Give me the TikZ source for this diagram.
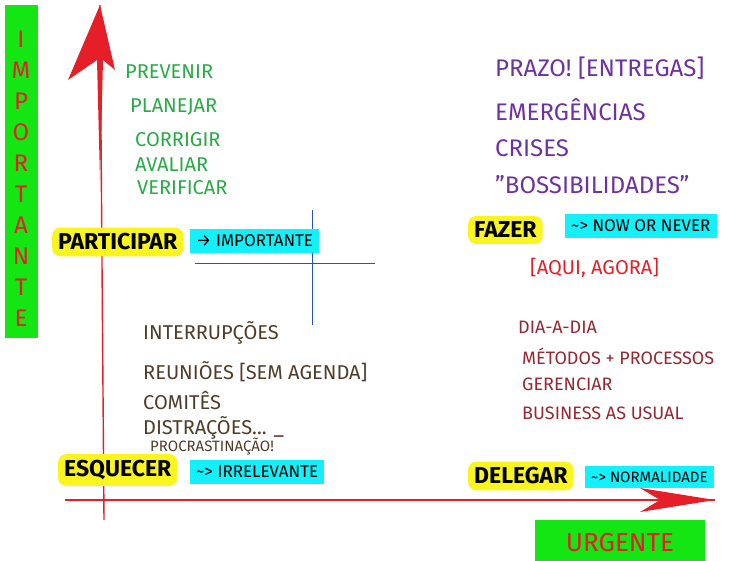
\documentclass[tikz,border=0pt]{standalone}
\usepackage{fontspec}
\setmainfont{Fira Sans}
\definecolor{hgreen}{RGB}{20,230,20}
\definecolor{hred}{RGB}{230,30,40}
\definecolor{hyel}{RGB}{250,245,30}
\definecolor{hcyan}{RGB}{20,240,250}
\definecolor{tgreen}{RGB}{40,170,70}
\definecolor{tpurp}{RGB}{110,50,160}
\definecolor{tbrown}{RGB}{80,60,40}
\definecolor{tmaroon}{RGB}{150,40,50}
\definecolor{tblue}{RGB}{40,80,190}
\begin{document}
\begin{tikzpicture}[x=1pt,y=-1pt,
  lbl/.style={anchor=west,inner sep=0pt,font=\fontsize{20}{20}\selectfont},
  yel/.style={fill=hyel,rounded corners=8pt,inner sep=6pt,font=\fontsize{23}{23}\selectfont\bfseries,anchor=west},
  cy/.style={fill=hcyan,inner sep=6pt,font=\fontsize{17}{17}\selectfont,anchor=west},
  axis/.style={draw=hred,line width=1.4pt}]
\useasboundingbox (0,0) rectangle (731,561);
% green labels
\fill[hgreen] (5,5) rectangle (38,338);
\foreach \c [count=\i] in {I,M,P,O,R,T,A,N,T,E}
  \node[text=hred,font=\fontsize{24}{24}\selectfont] (im\i) at (21,8+\i*31) {\c};
\fill[hgreen] (535,520) rectangle (705,561);
\node[text=hred,font=\fontsize{26}{26}\selectfont] (urg) at (620,543) {URGENTE};
% axes
\coordinate (ytop) at (100,5);
\coordinate (ybot) at (104,520);
\coordinate (xl) at (65,500);
\coordinate (xr) at (715,500);
\draw[axis] (ybot) -- (ytop);
\fill[hred] (ytop) -- (115,70) -- (103,60) -- (100,180) -- (97,60) -- (68,80) -- cycle;
\draw[axis] (xl) -- (xr);
\fill[hred] (xr) -- (640,488) -- (660,500) -- (640,512) -- cycle;
% blue cross
\coordinate (bt) at (312,210); \coordinate (bb) at (312,325);
\coordinate (bl) at (195,263); \coordinate (br) at (375,263);
\draw[tblue,thick] (bt) -- (bb) (bl) -- (br);
% top-left green
\foreach \t/\x/\y in {PREVENIR/125/72,PLANEJAR/130/107,CORRIGIR/135/140,AVALIAR/135/165,VERIFICAR/137/188}
  \node[lbl,text=tgreen] (g\y) at (\x,\y) {\t};
% top-right purple
\foreach \t/\y in {{PRAZO! [ENTREGAS]}/68,{EMERGÊNCIAS}/110,{CRISES}/148,{"BOSSIBILIDADES"}/185}
  \node[lbl,text=tpurp,font=\fontsize{24}{24}\selectfont] (p\y) at (495,\y) {\t};
% bottom-left
\foreach \t/\y in {{INTERRUPÇÕES}/333,{REUNIÕES [SEM AGENDA]}/372,{COMITÊS}/400,{DISTRAÇÕES... \_}/428}
  \node[lbl,text=tbrown] (b\y) at (143,\y) {\t};
\node[lbl,text=tbrown,font=\fontsize{15}{15}\selectfont] (proc) at (150,447) {PROCRASTINAÇÃO!};
% bottom-right
\foreach \t/\x/\y in {{DIA-A-DIA}/518/327,{MÉTODOS + PROCESSOS}/522/356,{GERENCIAR}/522/384,{BUSINESS AS USUAL}/522/413}
  \node[lbl,text=tmaroon,font=\fontsize{18}{18}\selectfont] (m\y) at (\x,\y) {\t};
% quadrant names
\node[yel] (part) at (52,242) {PARTICIPAR};
\node[cy] (imp) at (190,241) {→ IMPORTANTE};
\node[yel] (faz) at (468,230) {FAZER};
\node[cy] (now) at (565,226) {\textasciitilde> NOW OR NEVER};
\node[lbl,text=hred] (aqui) at (530,268) {[AQUI, AGORA]};
\node[yel] (esq) at (58,470) {ESQUECER};
\node[cy] (irr) at (190,472) {\textasciitilde> IRRELEVANTE};
\node[yel] (del) at (468,476) {DELEGAR};
\node[cy,font=\fontsize{15}{15}\selectfont] (norm) at (585,477) {\textasciitilde> NORMALIDADE};
\end{tikzpicture}
\end{document}
